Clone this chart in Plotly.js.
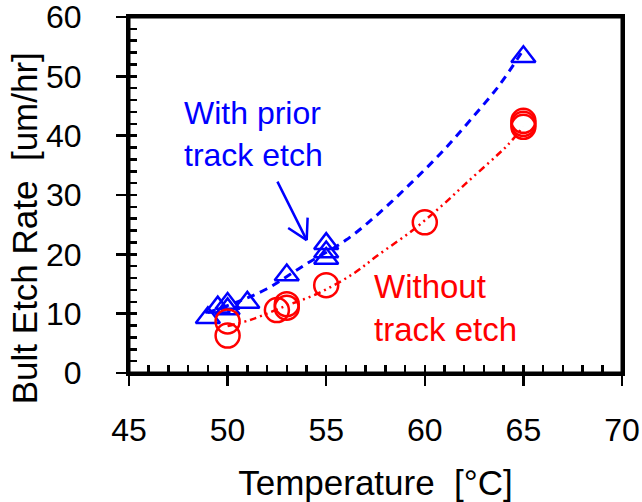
<!DOCTYPE html>
<html>
<head>
<meta charset="utf-8">
<script src="https://cdn.plot.ly/plotly-3.0.1.min.js"></script>
<style>html,body{margin:0;padding:0;background:#fff;}#chart{width:642px;height:502px;}</style>
</head>
<body>
<div id="chart"></div>
<script>
// Data
var priorTemp = [49, 49.5, 50, 50, 51, 53, 55, 55, 55, 65];
var priorRate = [9.3, 11.1, 11.7, 10.8, 11.9, 16.5, 21.8, 20.4, 19.3, 53.3];

var noneTemp = [50, 50, 52.5, 53, 53, 55, 60, 65, 65, 65];
var noneRate = [8.7, 6.3, 10.6, 11.6, 11.0, 14.8, 25.4, 42.5, 42.0, 41.5];

// Trend curves, sampled by eye along the drawn curves
var priorFitTemp = [49, 50.5, 52, 54, 56, 57.7, 59.3, 60.8, 62.3, 63.8, 65];
var priorFitRate = [10.2, 12.0, 14.2, 18.4, 22.4, 27.0, 32.0, 37.0, 42.6, 48.6, 54.5];

var noneFitTemp = [50, 51.2, 52.8, 54.7, 56.4, 57.6, 59.4, 60.9, 62.1, 63.6, 64.2, 65];
var noneFitRate = [7.9, 9.0, 11.1, 13.6, 16.8, 19.8, 24.1, 28.3, 32.0, 36.5, 38.4, 41.5];

var xTicks = [45, 50, 55, 60, 65, 70];
var yTicks = [0, 10, 20, 30, 40, 50, 60];

var BLUE = '#0000ff', RED = '#ff0000';
var FONT = 'Liberation Sans, Arial, sans-serif';

var traces = [
  {x: priorFitTemp, y: priorFitRate, mode: 'lines', line: {color: BLUE, width: 3, dash: '8px,6px', shape: 'spline'}, hoverinfo: 'skip', showlegend: false},
  {x: noneFitTemp, y: noneFitRate, mode: 'lines', line: {color: RED, width: 2.5, dash: '7px,4px,2px,4px,2px,4px', shape: 'spline'}, hoverinfo: 'skip', showlegend: false},
  {x: priorTemp, y: priorRate, mode: 'markers', marker: {symbol: 'triangle-up-open', size: 21, color: BLUE, line: {color: BLUE, width: 2.5}}, showlegend: false},
  {x: noneTemp, y: noneRate, mode: 'markers', marker: {symbol: 'circle-open', size: 24, color: RED, line: {color: RED, width: 2.5}}, showlegend: false}
];

var axisCommon = {
  showgrid: false, zeroline: false, showline: true, linecolor: '#000', linewidth: 3, mirror: true,
  ticks: 'outside', ticklen: 10, tickwidth: 2.5, tickcolor: '#000', ticklabeloverflow: 'allow',
  tickfont: {family: FONT, size: 32, color: '#000'}
};

// arrow geometry (pixel offsets from the arrow tip)
var arrowTip = {x: 54.01, y: 22.4};
var arrowParts = [[-30, -60], [-20, -13], [1, -24]];

var annotations = [
  {xref: 'paper', yref: 'paper', x: -0.212, y: 0.408, text: 'Bult Etch Rate  [um/hr]', textangle: -90,
   showarrow: false, xanchor: 'center', yanchor: 'middle', font: {family: FONT, size: 35, color: '#000'}},
  {x: 47.7, y: 40.2, text: 'With prior<br>track etch', showarrow: false, xanchor: 'left', yanchor: 'middle', align: 'left',
   font: {family: FONT, size: 32, color: BLUE}},
  {x: 57.3, y: 10.9, text: 'Without<br>track etch', showarrow: false, xanchor: 'left', yanchor: 'middle', align: 'left',
   font: {family: FONT, size: 33, color: RED}}
];
arrowParts.forEach(function (p) {
  annotations.push({x: arrowTip.x, y: arrowTip.y, ax: p[0], ay: p[1], text: '', showarrow: true,
    arrowhead: 0, arrowwidth: 2.5, arrowcolor: BLUE, standoff: 0, startstandoff: 0});
});

var layout = {
  width: 642, height: 502,
  margin: {l: 129, r: 20, t: 17, b: 129, pad: 0},
  paper_bgcolor: '#fff', plot_bgcolor: '#fff',
  font: {family: FONT, color: '#000'},
  xaxis: Object.assign({}, axisCommon, {
    range: [45, 70], tickmode: 'array', tickvals: xTicks, ticktext: xTicks.map(String),
    ticklabelstandoff: 17,
    minor: {dtick: 1, tick0: 45, ticks: 'inside', ticklen: 8, tickwidth: 2.5, tickcolor: '#000'},
    title: {text: 'Temperature  [°C]', font: {family: FONT, size: 35, color: '#000'}, standoff: 24}
  }),
  yaxis: Object.assign({}, axisCommon, {
    range: [0, 60], tickmode: 'array', tickvals: yTicks, ticktext: yTicks.map(String),
    ticklabelstandoff: 28,
    minor: {dtick: 2, tick0: 0, ticks: 'inside', ticklen: 8, tickwidth: 2.5, tickcolor: '#000'}
  }),
  xaxis2: {overlaying: 'x', anchor: 'y', side: 'bottom', range: [45, 70], tickmode: 'array', tickvals: xTicks,
    ticks: 'inside', ticklen: 10, tickwidth: 2.5, tickcolor: '#000', showticklabels: false,
    showline: false, showgrid: false, zeroline: false},
  yaxis2: {overlaying: 'y', anchor: 'x', side: 'left', range: [0, 60], tickmode: 'array', tickvals: yTicks,
    ticks: 'inside', ticklen: 10, tickwidth: 2.5, tickcolor: '#000', showticklabels: false,
    showline: false, showgrid: false, zeroline: false},
  shapes: [
    {type: 'rect', xref: 'paper', yref: 'paper', x0: 0, x1: 1, y0: 0, y1: 1,
     line: {color: '#000', width: 3}, fillcolor: 'rgba(0,0,0,0)', layer: 'above'}
  ],
  annotations: annotations
};

Plotly.newPlot('chart', traces, layout, {staticPlot: true, displayModeBar: false});
</script>
</body>
</html>
